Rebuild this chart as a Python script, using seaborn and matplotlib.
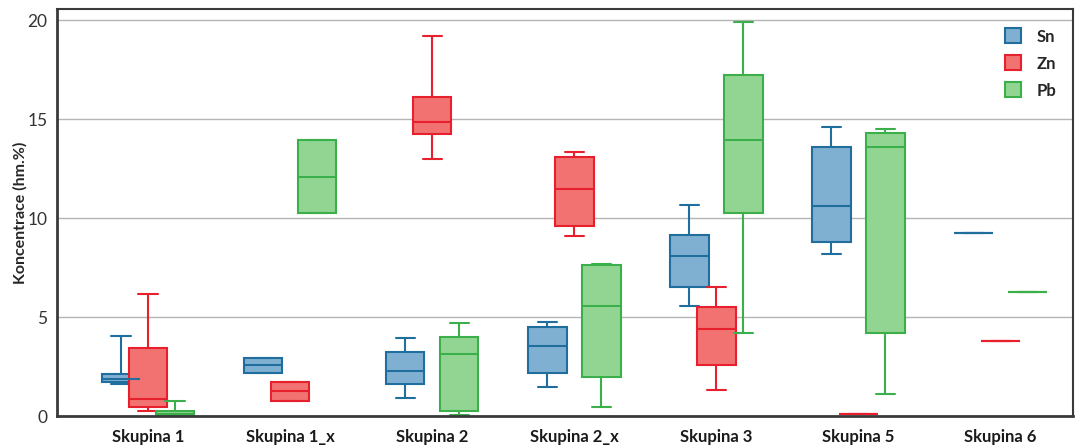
import pandas as pd
import numpy as np
import matplotlib
matplotlib.use("Agg")
import matplotlib.pyplot as plt
from matplotlib.patches import Patch
import seaborn as sns

# groups on the x axis
categories = ["Skupina 1", "Skupina 1_x", "Skupina 2", "Skupina 2_x",
              "Skupina 3", "Skupina 5", "Skupina 6"]
elements = ["Sn", "Zn", "Pb"]

# five-number values per group: min, q1, median, q3, max
sn_values = [
    [1.60, 1.72, 1.88, 2.10, 4.04],
    [2.19, 2.19, 2.58, 2.91, 2.91],
    [0.89, 1.60, 2.27, 3.25, 3.96],
    [1.48, 2.16, 3.54, 4.48, 4.75],
    [5.56, 6.53, 8.08, 9.14, 10.66],
    [8.16, 8.77, 10.61, 13.60, 14.58],
    [9.23],
]
zn_values = [
    [0.27, 0.44, 0.84, 3.45, 6.15],
    [0.77, 0.77, 1.26, 1.73, 1.73],
    [12.96, 14.23, 14.87, 16.10, 19.21],
    [9.11, 9.61, 11.46, 13.06, 13.35],
    [1.31, 2.58, 4.39, 5.49, 6.53],
    [0.08],
    [3.80],
]
pb_values = [
    [0.02, 0.05, 0.12, 0.25, 0.76],
    [10.24, 10.24, 12.09, 13.94, 13.94],
    [0.05, 0.25, 3.13, 4.00, 4.71],
    [0.47, 1.99, 5.56, 7.63, 7.68],
    [4.21, 10.24, 13.94, 17.22, 19.88],
    [1.09, 4.21, 13.57, 14.28, 14.51],
    [6.28],
]

fills = {"Sn": "#7fb0d2", "Zn": "#f27272", "Pb": "#92d592"}
edges = {"Sn": "#1f6e9e", "Zn": "#e8202e", "Pb": "#3bb04a"}
offsets = {"Sn": -0.19, "Zn": 0.0, "Pb": 0.19}

rows = []
for el, vals in zip(elements, [sn_values, zn_values, pb_values]):
    for i, group in enumerate(vals):
        for v in group:
            rows.append({"group": categories[i], "element": el,
                         "pos": i + offsets[el], "value": v})
df = pd.DataFrame(rows)

sns.set_style("white")
plt.rcParams["font.family"] = ["Lato", "DejaVu Sans"]

fig = plt.figure(figsize=(10.78, 4.45), dpi=100)
ax = fig.add_axes([0.053, 0.065, 0.9424, 0.914])

for el in elements:
    sub = df[df["element"] == el]
    sns.boxplot(data=sub, x="pos", y="value", native_scale=True, width=0.27,
                color=fills[el], linecolor=edges[el], linewidth=1.5,
                saturation=1, whis=(0, 100), fliersize=0, ax=ax)

ax.set_xlim(-0.64, 6.51)
ax.set_ylim(0, 20.54)
ax.set_xticks(range(len(categories)))
ax.set_xticklabels(categories, fontsize=12, fontweight="bold", color="#1a1a1a")
ax.set_yticks([0, 5, 10, 15, 20])
ax.set_yticklabels(["0", "5", "10", "15", "20"], fontsize=12.5, color="#333333")
ax.tick_params(axis="x", length=0, pad=9)
ax.tick_params(axis="y", length=0, pad=7)
ax.set_xlabel("")
ax.set_ylabel("Koncentrace (hm.%)", fontsize=11.5, fontweight="bold")
ax.yaxis.set_label_coords(-0.029, 0.5)

ax.yaxis.grid(True, color="#b5b5b5", linewidth=1)
ax.set_axisbelow(True)
for side in ["left", "bottom", "right", "top"]:
    ax.spines[side].set_visible(True)
    ax.spines[side].set_color("#3a3a3a")
    ax.spines[side].set_linewidth(1.5)
ax.spines["left"].set_linewidth(2)
ax.spines["bottom"].set_linewidth(2)

handles = [Patch(facecolor=fills[el], edgecolor=edges[el], linewidth=1.5, label=el)
           for el in elements]
leg = ax.legend(handles=handles, loc="upper right", frameon=False,
                bbox_to_anchor=(0.998, 0.99),
                handlelength=1.0, handleheight=1.0, labelspacing=0.65,
                handletextpad=0.9, prop={"weight": "bold", "size": 12})

fig.savefig("out.png", dpi=100)
